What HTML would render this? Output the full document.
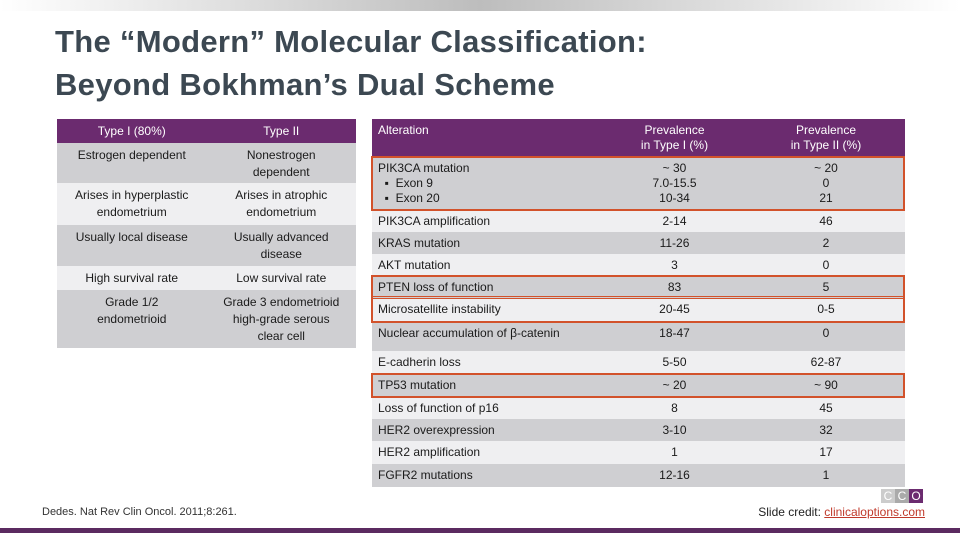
<!DOCTYPE html>
<html><head><meta charset="utf-8"><style>
*{margin:0;padding:0;box-sizing:border-box}
body{width:960px;height:540px;background:#fff;position:relative;overflow:hidden;font-family:"Liberation Sans Narrow","Liberation Sans",sans-serif;color:#1a1a1a}
.abs{position:absolute}
#topbar{left:0;top:0;width:960px;height:11px;background:linear-gradient(90deg,#fff 0%,#bdbdbd 50%,#fff 100%)}
#title{left:55px;top:20px;font-size:31px;font-weight:bold;color:#3c4852;line-height:43px;letter-spacing:0.3px}
table{position:absolute;border-collapse:collapse;font-size:12px}
td{padding:0 6px;vertical-align:top}
.hd{background:#6b2b6f;color:#fff}
.g{background:#cfcfd2}
.l{background:#efeff1}
#lt{left:57px;top:119px;width:299px}
#lt td{text-align:center;width:50%;line-height:17px;padding-top:4px}
#rt{left:372px;top:119px;width:533px}
#rt td{line-height:15px;padding-top:4px}
#rt td.c{text-align:center}
.box{position:absolute;border:2.5px solid #d2522b}
#bottombar{left:0;top:528px;width:960px;height:5px;background:#5b2a60}
</style></head><body>
<div class="abs" id="topbar"></div>
<div class="abs" id="title">The “Modern” Molecular Classification:<br>Beyond Bokhman’s Dual Scheme</div>

<table id="lt">
<tr class="hd" style="height:24px"><td>Type I (80%)</td><td>Type II</td></tr>
<tr class="g" style="height:40px"><td>Estrogen dependent</td><td>Nonestrogen<br>dependent</td></tr>
<tr class="l" style="height:42px"><td>Arises in hyperplastic<br>endometrium</td><td>Arises in atrophic<br>endometrium</td></tr>
<tr class="g" style="height:41px"><td>Usually local disease</td><td>Usually advanced<br>disease</td></tr>
<tr class="l" style="height:24px"><td>High survival rate</td><td>Low survival rate</td></tr>
<tr class="g" style="height:58px"><td>Grade 1/2<br>endometrioid</td><td>Grade 3 endometrioid<br>high-grade serous<br>clear cell</td></tr>
</table>

<table id="rt">
<tr class="hd" style="height:38px"><td style="width:230px">Alteration</td><td class="c">Prevalence<br>in Type I (%)</td><td class="c" style="width:158px">Prevalence<br>in Type II (%)</td></tr>
<tr class="g" style="height:53px"><td>PIK3CA mutation<br>&nbsp;&nbsp;▪&nbsp;&nbsp;Exon 9<br>&nbsp;&nbsp;▪&nbsp;&nbsp;Exon 20</td><td class="c">~ 30<br>7.0-15.5<br>10-34</td><td class="c">~ 20<br>0<br>21</td></tr>
<tr class="l" style="height:22px"><td>PIK3CA amplification</td><td class="c">2-14</td><td class="c">46</td></tr>
<tr class="g" style="height:22px"><td>KRAS mutation</td><td class="c">11-26</td><td class="c">2</td></tr>
<tr class="l" style="height:22px"><td>AKT mutation</td><td class="c">3</td><td class="c">0</td></tr>
<tr class="g" style="height:22px"><td>PTEN loss of function</td><td class="c">83</td><td class="c">5</td></tr>
<tr class="l" style="height:24px"><td>Microsatellite instability</td><td class="c">20-45</td><td class="c">0-5</td></tr>
<tr class="g" style="height:29px"><td>Nuclear accumulation of β-catenin</td><td class="c">18-47</td><td class="c">0</td></tr>
<tr class="l" style="height:23px"><td>E-cadherin loss</td><td class="c">5-50</td><td class="c">62-87</td></tr>
<tr class="g" style="height:23px"><td>TP53 mutation</td><td class="c">~ 20</td><td class="c">~ 90</td></tr>
<tr class="l" style="height:22px"><td>Loss of function of p16</td><td class="c">8</td><td class="c">45</td></tr>
<tr class="g" style="height:22px"><td>HER2 overexpression</td><td class="c">3-10</td><td class="c">32</td></tr>
<tr class="l" style="height:23px"><td>HER2 amplification</td><td class="c">1</td><td class="c">17</td></tr>
<tr class="g" style="height:23px"><td>FGFR2 mutations</td><td class="c">12-16</td><td class="c">1</td></tr>
</table>

<div class="box" style="left:371px;top:156px;width:534px;height:55px"></div>
<div class="box" style="left:371px;top:275px;width:534px;height:48px"></div>
<div class="box" style="left:371px;top:296px;width:534px;height:2.5px;border-width:1px"></div>
<div class="box" style="left:371px;top:373px;width:534px;height:25px"></div>

<div class="abs" style="left:42px;top:506px;font-size:11px;color:#333">Dedes. Nat Rev Clin Oncol. 2011;8:261.</div>
<div class="abs" style="left:881px;top:489px;width:14px;height:14px;background:#ccc;color:#fff;font-size:12px;text-align:center;line-height:14px">C</div>
<div class="abs" style="left:895px;top:489px;width:14px;height:14px;background:#aaa;color:#fff;font-size:12px;text-align:center;line-height:14px">C</div>
<div class="abs" style="left:909px;top:489px;width:14px;height:14px;background:#6b2b6f;color:#fff;font-size:12px;text-align:center;line-height:14px">O</div>
<div class="abs" style="right:35px;top:505px;font-size:12px;color:#222">Slide credit: <span style="color:#c0392b;text-decoration:underline">clinicaloptions.com</span></div>
<div class="abs" id="bottombar"></div>
</body></html>
